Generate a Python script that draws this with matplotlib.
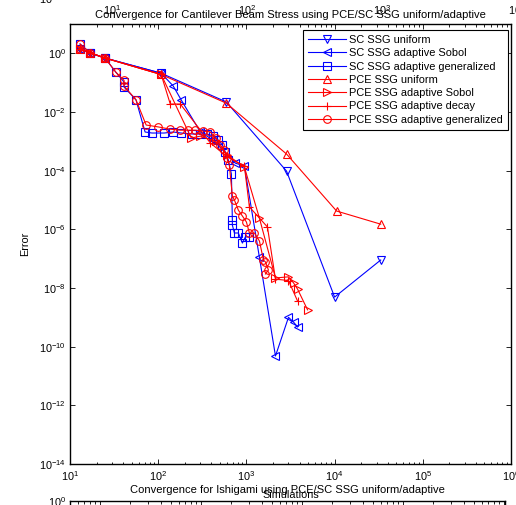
import matplotlib
matplotlib.use('Agg')
import matplotlib.pyplot as plt
from matplotlib.ticker import NullLocator, NullFormatter

plt.rcParams['font.family'] = ['Liberation Sans', 'DejaVu Sans']
plt.rcParams['mathtext.fontset'] = 'custom'
plt.rcParams['mathtext.rm'] = 'Liberation Sans'
plt.rcParams['mathtext.it'] = 'Liberation Sans:italic'
plt.rcParams['mathtext.bf'] = 'Liberation Sans:bold'
plt.rcParams['axes.unicode_minus'] = False
plt.rcParams['font.size'] = 7.8

# values (simulations, error)
sims_sc_uniform = [13, 17, 25, 108, 592, 2850, 10000, 33340]
err_sc_uniform = [1.4, 1.03, 0.69, 0.21, 0.022, 9.7e-5, 4.9e-9, 9.0e-8]

sims_sc_sobol = [13, 17, 25, 108, 148, 182, 300, 420, 750, 949, 1405, 2136, 3000, 3420, 3800]
err_sc_sobol = [1.4, 1.03, 0.69, 0.21, 0.077, 0.026, 2.1e-3, 1.1e-3, 1.8e-4, 1.44e-4,
                1.1e-7, 4.8e-11, 1.0e-9, 6.9e-10, 4.7e-10]

sims_sc_gen = [13, 17, 25, 33, 41, 41, 56, 71, 85, 117, 148, 182, 243, 300, 360, 420,
               480, 534, 577, 624, 676, 693, 693, 731, 811, 901, 974, 1082]
err_sc_gen = [2.08, 1.03, 0.69, 0.23, 0.105, 0.071, 0.026, 2.08e-3, 1.92e-3, 1.92e-3,
              2.08e-3, 1.92e-3, 1.78e-3, 1.78e-3, 1.78e-3, 1.5e-3, 1.1e-3, 7.5e-4,
              4.3e-4, 2.3e-4, 7.7e-5, 2.08e-6, 1.4e-6, 7.5e-7, 7.5e-7, 3.4e-7, 5.5e-7, 5.5e-7]

sims_pce_uniform = [13, 17, 25, 108, 592, 2850, 10540, 33340]
err_pce_uniform = [1.4, 1.03, 0.69, 0.19, 0.020, 3.7e-4, 4.2e-6, 1.5e-6]

sims_pce_sobol = [13, 17, 25, 108, 237, 300, 450, 600, 949, 1405, 2136, 3000, 3420, 3800, 4935]
err_pce_sobol = [1.4, 1.03, 0.69, 0.19, 1.3e-3, 1.5e-3, 1.0e-3, 3.5e-4, 1.33e-4, 2.4e-6,
                 2.2e-8, 2.4e-8, 1.5e-8, 9.2e-9, 1.8e-9]

sims_pce_decay = [13, 17, 25, 108, 137, 178, 390, 600, 949, 1082, 1733, 2136, 3000, 3800]
err_pce_decay = [1.4, 1.03, 0.69, 0.19, 0.0187, 0.0187, 8.8e-4, 3.0e-4, 1.4e-4, 5.8e-6,
                 1.2e-6, 2.0e-8, 1.8e-8, 3.6e-9]

sims_pce_gen = [13, 17, 25, 33, 41, 41, 56, 73, 100, 137, 178, 220, 263, 320, 390, 450,
                507, 560, 600, 640, 693, 731, 811, 901, 1000, 1082, 1233, 1405, 1561,
                1644, 1778, 1644]
err_pce_gen = [2.08, 1.03, 0.69, 0.23, 0.12, 0.077, 0.026, 3.6e-3, 3.1e-3, 2.6e-3, 2.4e-3,
               2.4e-3, 2.4e-3, 2.25e-3, 2.1e-3, 1.3e-3, 7.5e-4, 5e-4, 2.7e-4, 1.56e-4,
               1.37e-5, 1.0e-5, 4.5e-6, 2.84e-6, 1.78e-6, 7.5e-7, 7.5e-7, 4.0e-7, 9.0e-8,
               7.7e-8, 4.1e-8, 3.0e-8]

labels = ['SC SSG uniform', 'SC SSG adaptive Sobol', 'SC SSG adaptive generalized',
          'PCE SSG uniform', 'PCE SSG adaptive Sobol', 'PCE SSG adaptive decay',
          'PCE SSG adaptive generalized']

W, H = 516, 505
fig = plt.figure(figsize=(W / 100, H / 100), dpi=100)


def box(left, top, right, bottom):
    # pixel box -> figure fraction rect
    return [left / W, 1 - bottom / H, (right - left) / W, (bottom - top) / H]


def matlab_ticks(a):
    a.tick_params(which='both', direction='in', top=True, bottom=True, right=True, left=True)
    a.tick_params(which='major', length=3.5, width=0.6)
    a.tick_params(which='minor', length=1.8, width=0.6)
    for s in a.spines.values():
        s.set_linewidth(1.0)


# neighbouring subplot above (only its tick labels show)
ax_up = fig.add_axes(box(70, -300, 525, -2))
ax_up.set_xscale('log')
ax_up.set_yscale('log')
ax_up.set_xlim(10 ** 0.69, 10 ** 4.06)
ax_up.set_ylim(1e-14, 1e1)
ax_up.set_yticks([10.0 ** k for k in range(-14, 1, 2)])
ax_up.yaxis.set_minor_locator(NullLocator())
matlab_ticks(ax_up)
ax_up.tick_params(axis='x', pad=4)
ax_up.tick_params(axis='y', pad=3)

# neighbouring subplot below (top edge and title show)
ax_low = fig.add_axes(box(70, 501, 505, 800))
ax_low.set_xscale('log')
ax_low.set_yscale('log')
ax_low.set_xlim(10 ** 0.703, 10 ** 5.01)
ax_low.set_ylim(1e-10, 1e0)
ax_low.set_yticks([1e0, 1e-2, 1e-4, 1e-6, 1e-8, 1e-10])
ax_low.yaxis.set_minor_locator(NullLocator())
matlab_ticks(ax_low)
ax_low.tick_params(axis='y', pad=3)
ax_low.set_title('Convergence for Ishigami using PCE/SC SSG uniform/adaptive', fontsize=8, pad=5.5)

# main chart
ax = fig.add_axes(box(70, 24, 511, 464))
kw = dict(lw=0.8, ms=5.5, mfc='none', mew=0.8)
ax.plot(sims_sc_uniform, err_sc_uniform, 'b-v', label=labels[0], **kw)
ax.plot(sims_sc_sobol, err_sc_sobol, 'b-<', label=labels[1], **kw)
ax.plot(sims_sc_gen, err_sc_gen, 'b-s', label=labels[2], **kw)
ax.plot(sims_pce_uniform, err_pce_uniform, 'r-^', label=labels[3], **kw)
ax.plot(sims_pce_sobol, err_pce_sobol, 'r->', label=labels[4], **kw)
ax.plot(sims_pce_decay, err_pce_decay, 'r-+', label=labels[5], **kw)
ax.plot(sims_pce_gen, err_pce_gen, 'r-o', label=labels[6], **kw)

ax.set_xscale('log')
ax.set_yscale('log')
ax.set_xlim(1e1, 1e6)
ax.set_ylim(1e-14, 1e1)
ax.set_yticks([10.0 ** k for k in range(-14, 1, 2)])
ax.yaxis.set_minor_locator(NullLocator())
ax.yaxis.set_minor_formatter(NullFormatter())
matlab_ticks(ax)
ax.tick_params(axis='x', pad=4)
ax.tick_params(axis='y', pad=3)

ax.set_title('Convergence for Cantilever Beam Stress using PCE/SC SSG uniform/adaptive',
             fontsize=8, pad=4)
ax.set_xlabel('Simulations', labelpad=4.5)
ax.set_ylabel('Error', labelpad=6)

leg = ax.legend(loc='upper right', bbox_to_anchor=(508 / W, 1 - 30 / H),
                bbox_transform=fig.transFigure, borderaxespad=0, fancybox=False,
                edgecolor='k', framealpha=1, fontsize=7.9, handlelength=3.5,
                handletextpad=0.3, labelspacing=0.3, borderpad=0.45)
leg.get_frame().set_linewidth(0.8)

plt.savefig('out.png', dpi=100)
